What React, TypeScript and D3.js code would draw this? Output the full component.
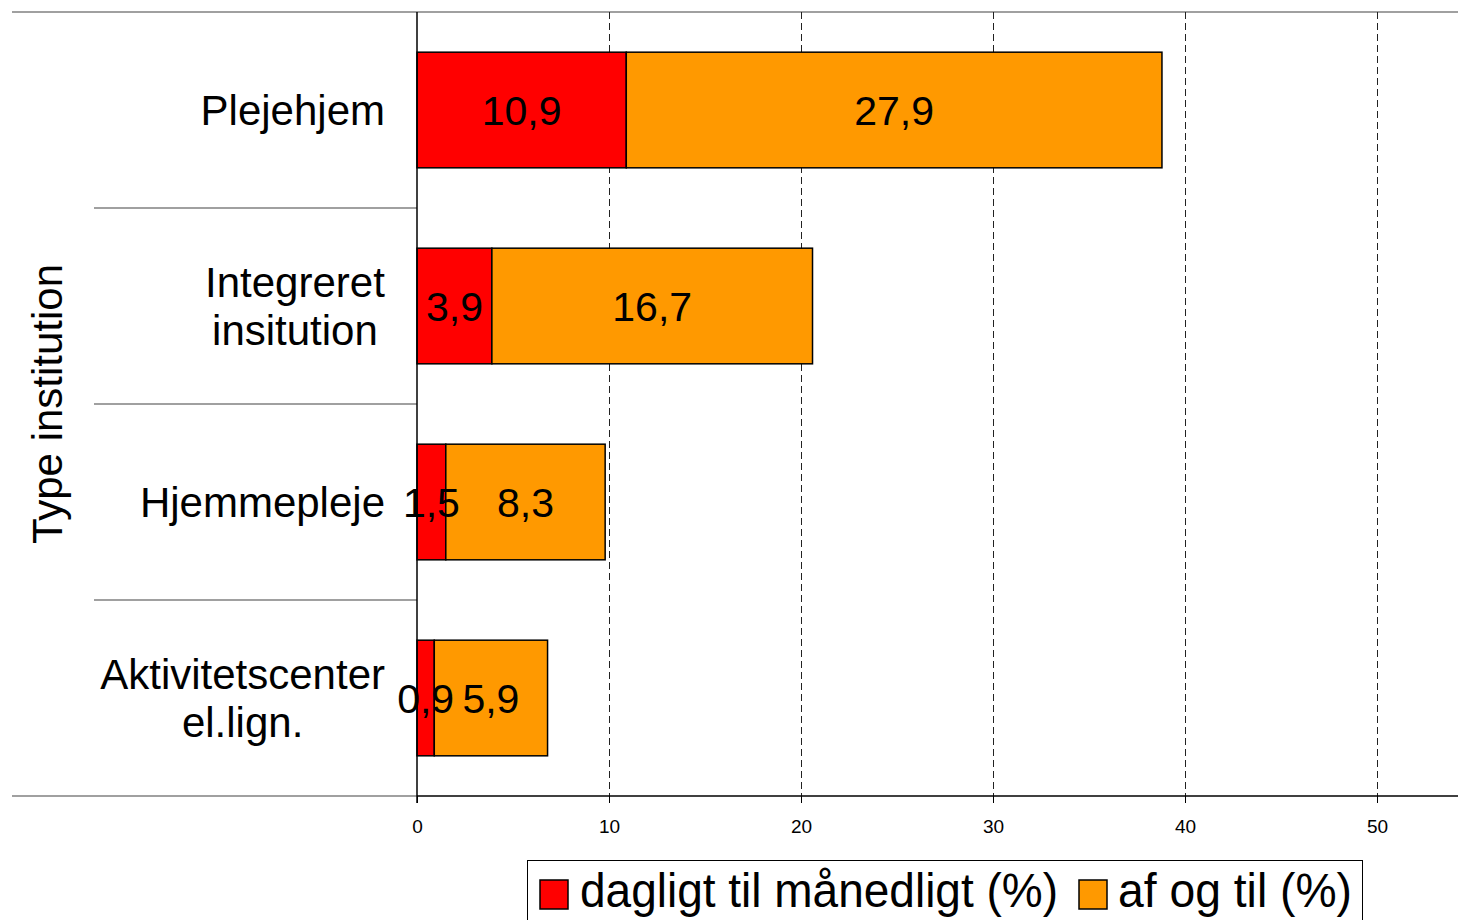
import { useRef, useEffect } from 'react';
import * as d3 from 'd3';

const categories = ['Plejehjem', 'Integreret insitution', 'Hjemmepleje', 'Aktivitetscenter el.lign.'];
const categoryLines = [['Plejehjem'], ['Integreret', 'insitution'], ['Hjemmepleje'], ['Aktivitetscenter', 'el.lign.']];
const dailyToMonthly = [10.9, 3.9, 1.5, 0.9];
const nowAndThen = [27.9, 16.7, 8.3, 5.9];
const xTicks = [0, 10, 20, 30, 40, 50];
const seriesNames = ['dagligt til månedligt (%)', 'af og til (%)'];
const seriesColors = ['#ff0000', '#ff9900'];

const width = 1458;
const height = 920;
const font = 'Arial, "Liberation Sans", sans-serif';

export default function App() {
  const ref = useRef<SVGSVGElement>(null);

  useEffect(() => {
    if (!ref.current) return;
    const svg = d3.select(ref.current);
    svg.selectAll('*').remove();

    const top = 12;
    const bottom = 796;
    const x0 = 417;

    const x = d3.scaleLinear().domain([0, 55]).range([x0, x0 + 55 * 19.2]);
    const y = d3
      .scaleBand<string>()
      .domain(categories)
      .range([top, bottom])
      .paddingInner(0.41)
      .paddingOuter(0.205);
    const step = y.step();

    // frame lines
    svg.append('line').attr('x1', 12).attr('x2', width).attr('y1', top).attr('y2', top)
      .attr('stroke', '#808080').attr('stroke-width', 1.5);
    svg.append('line').attr('x1', 12).attr('x2', x0).attr('y1', bottom).attr('y2', bottom)
      .attr('stroke', '#808080').attr('stroke-width', 1.5);

    // category separators
    categories.slice(1).forEach((c) => {
      const yy = y(c)! - (step - y.bandwidth()) / 2;
      svg.append('line').attr('x1', 94).attr('x2', x0).attr('y1', yy).attr('y2', yy)
        .attr('stroke', '#808080').attr('stroke-width', 1.5);
    });

    // dashed grid
    svg.append('g')
      .selectAll('line')
      .data(xTicks.filter((t) => t > 0))
      .enter()
      .append('line')
      .attr('x1', (d) => Math.round(x(d)) + 0.5)
      .attr('x2', (d) => Math.round(x(d)) + 0.5)
      .attr('y1', top)
      .attr('y2', bottom)
      .attr('stroke', '#222')
      .attr('stroke-width', 1)
      .attr('stroke-dasharray', '7,4');

    // x axis
    const axis = svg.append('g')
      .attr('transform', `translate(0,${bottom})`)
      .call(d3.axisBottom(x).tickValues(xTicks).tickSize(7).tickPadding(17).tickFormat(d3.format('d')));
    axis.select('.domain').attr('d', `M${x0},0H${width}`).attr('stroke', '#000').attr('stroke-width', 1.5);
    axis.selectAll('.tick line').attr('stroke', '#000');
    axis.selectAll('text').attr('font-family', font).attr('font-size', 19).attr('fill', '#000');

    // bars
    const rows = categories.map((c, i) => ({ c, a: dailyToMonthly[i], b: nowAndThen[i] }));
    const g = svg.append('g');
    rows.forEach((r) => {
      const segs = [
        { start: 0, val: r.a, color: seriesColors[0] },
        { start: r.a, val: r.b, color: seriesColors[1] },
      ];
      segs.forEach((s) => {
        g.append('rect')
          .attr('x', x(s.start))
          .attr('y', y(r.c)!)
          .attr('width', x(s.start + s.val) - x(s.start))
          .attr('height', y.bandwidth())
          .attr('fill', s.color)
          .attr('stroke', '#000')
          .attr('stroke-width', 1.5);
      });
      segs.forEach((s) => {
        g.append('text')
          .attr('x', (x(s.start) + x(s.start + s.val)) / 2)
          .attr('y', y(r.c)! + y.bandwidth() / 2)
          .attr('dy', '0.36em')
          .attr('text-anchor', 'middle')
          .attr('font-family', font)
          .attr('font-size', 41)
          .attr('fill', '#000')
          .text(String(s.val).replace('.', ','));
      });
    });

    // vertical axis line
    svg.append('line').attr('x1', x0).attr('x2', x0).attr('y1', top).attr('y2', bottom + 7)
      .attr('stroke', '#000').attr('stroke-width', 1.5);

    // category labels: block right-aligned at 385, lines centred within it
    const lineH = 48;
    categories.forEach((c, i) => {
      const lines = categoryLines[i];
      const cy = y(c)! + y.bandwidth() / 2;
      const t = svg.append('text')
        .attr('font-family', font)
        .attr('font-size', 42)
        .attr('fill', '#000')
        .attr('text-anchor', 'middle');
      lines.forEach((ln, k) => {
        t.append('tspan')
          .attr('x', 0)
          .attr('y', cy + (k - (lines.length - 1) / 2) * lineH)
          .attr('dy', '0.36em')
          .text(ln);
      });
      const w = (t.node() as SVGTextElement).getBBox().width;
      t.selectAll('tspan').attr('x', 385 - w / 2);
    });

    // y title
    svg.append('text')
      .attr('transform', `translate(47,404) rotate(-90)`)
      .attr('dy', '0.36em')
      .attr('text-anchor', 'middle')
      .attr('font-family', font)
      .attr('font-size', 42)
      .attr('fill', '#000')
      .text('Type institution');

    // legend
    const lg = svg.append('g');
    lg.append('rect').attr('x', 527.5).attr('y', 860.5).attr('width', 835).attr('height', 80)
      .attr('fill', '#fff').attr('stroke', '#000').attr('stroke-width', 1);
    const items = [
      { sx: 540, tx: 580, len: 478 },
      { sx: 1079, tx: 1118, len: 234 },
    ];
    items.forEach((it, i) => {
      lg.append('rect').attr('x', it.sx).attr('y', 880).attr('width', 28).attr('height', 29)
        .attr('fill', seriesColors[i]).attr('stroke', '#000').attr('stroke-width', 1.5);
      lg.append('text')
        .attr('x', it.tx)
        .attr('y', 907)
        .attr('font-family', font)
        .attr('font-size', 48)
        .attr('fill', '#000')
        .attr('textLength', it.len)
        .attr('lengthAdjust', 'spacingAndGlyphs')
        .text(seriesNames[i]);
    });
  }, []);

  return (
    <svg
      ref={ref}
      width={width}
      height={height}
      style={{ position: 'absolute', left: 0, top: 0, background: '#fff' }}
    />
  );
}
